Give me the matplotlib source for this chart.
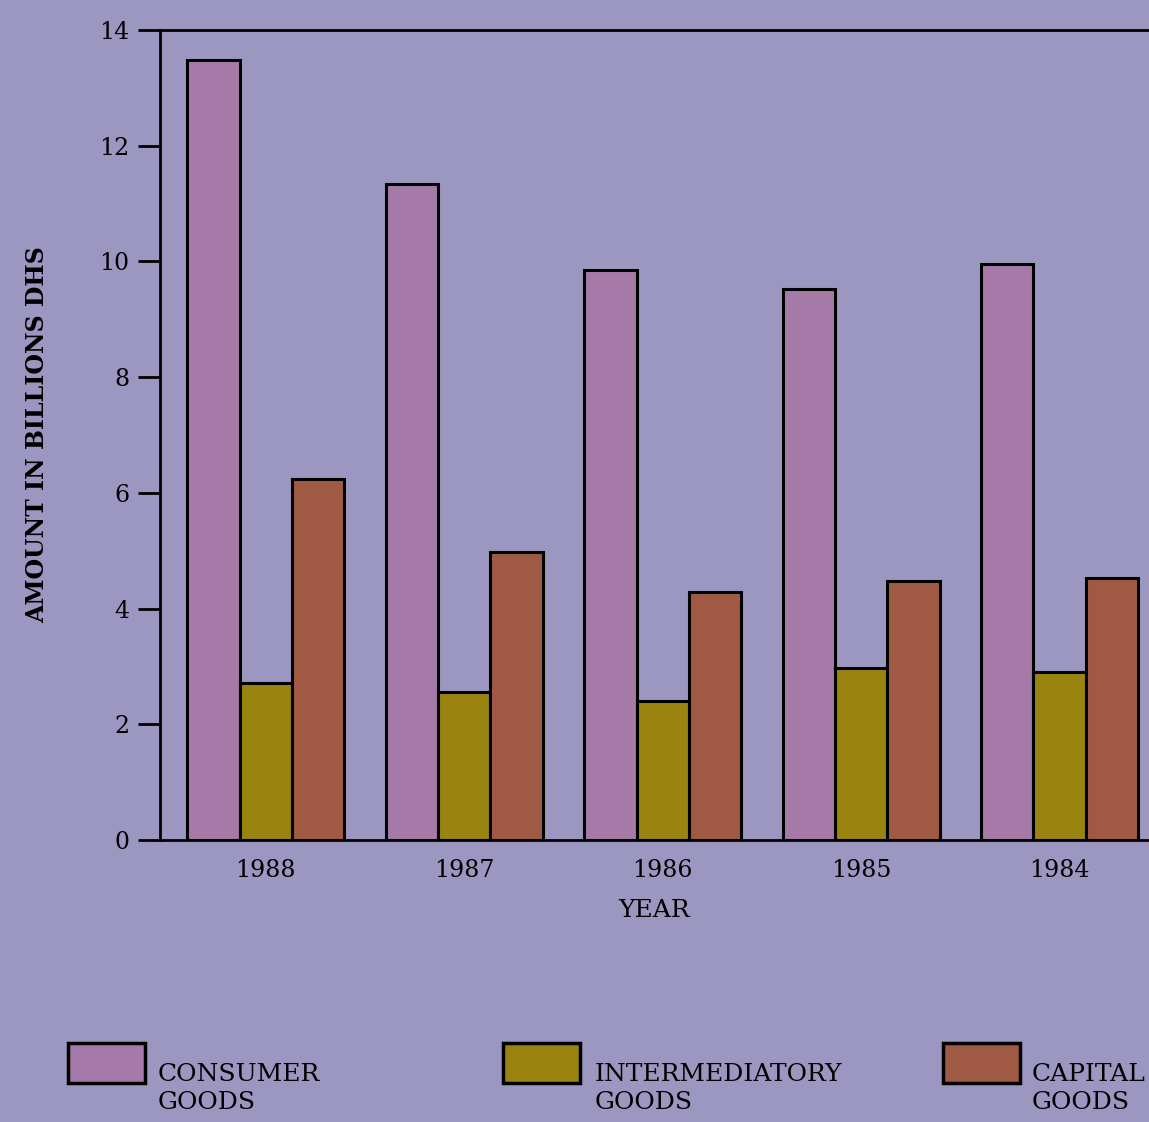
import numpy as np
import matplotlib.pyplot as plt
from matplotlib.patches import Rectangle

years = ['1988', '1987', '1986', '1985', '1984']
consumer = [13.48, 11.33, 9.86, 9.53, 9.95]
intermediatory = [2.71, 2.55, 2.40, 2.98, 2.90]
capital = [6.24, 4.97, 4.28, 4.47, 4.52]
legend_labels = ['CONSUMER\nGOODS', 'INTERMEDIATORY\nGOODS', 'CAPITAL\nGOODS']

bg = '#9c97c0'
colors = ['#a67aa8', '#9a8410', '#a05a44']

plt.rcParams['font.family'] = ['DejaVu Serif']

fig = plt.figure(figsize=(11.49, 11.22), dpi=100, facecolor=bg)
ax = fig.add_axes([160/1149, 282/1122, 1 - 160/1149, 810/1122])
ax.set_facecolor(bg)

x = np.arange(len(years))
w = 0.264
for off, vals, c in zip([-w, 0, w], [consumer, intermediatory, capital], colors):
    ax.bar(x + off, vals, width=w, color=c, edgecolor='black', linewidth=2.2)

ax.set_xlim(-0.533, 4.45)
ax.set_ylim(0, 14)
ax.set_yticks(range(0, 15, 2))
ax.set_xticks(x)
ax.set_xticklabels(years)
ax.tick_params(axis='y', length=16, width=2, pad=6, labelsize=17)
ax.tick_params(axis='x', length=0, pad=14, labelsize=17)
for s in ['left', 'top', 'bottom']:
    ax.spines[s].set_linewidth(2)
ax.spines['right'].set_visible(False)

ax.set_xlabel('YEAR', fontsize=18, labelpad=12)
ax.set_ylabel('AMOUNT IN BILLIONS DHS', fontsize=17, fontweight='bold', labelpad=36)

# legend drawn by hand along the bottom
patch_x = [68, 503, 943]
text_x = [158, 595, 1032]
for px, tx, c, lab in zip(patch_x, text_x, colors, legend_labels):
    fig.add_artist(Rectangle((px/1149, 1 - 1083/1122), 77/1149, 40/1122,
                             transform=fig.transFigure, facecolor=c,
                             edgecolor='black', linewidth=2.5))
    fig.text(tx/1149, 1 - 1063/1122, lab, fontsize=18, va='top', ha='left',
             linespacing=1.3)

fig.savefig('out.png', dpi=100, facecolor=bg)
